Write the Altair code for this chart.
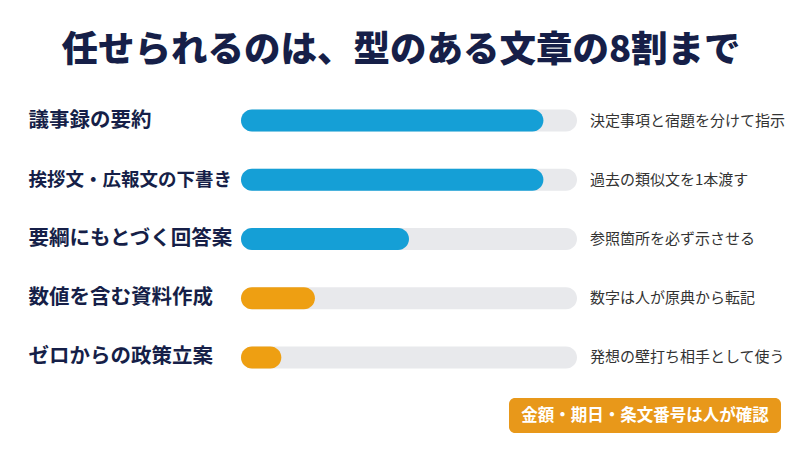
import altair as alt
import pandas as pd

# rows, top to bottom
categories = [
    "議事録の要約",
    "挨拶文・広報文の下書き",
    "要綱にもとづく回答案",
    "数値を含む資料作成",
    "ゼロからの政策立案",
]
shares = [90, 90, 50, 22, 12]
tips = [
    "決定事項と宿題を分けて指示",
    "過去の類似文を1本渡す",
    "参照箇所を必ず示させる",
    "数字は人が原典から転記",
    "発想の壁打ち相手として使う",
]
tones = ["ok", "ok", "ok", "check", "check"]

TITLE = "任せられるのは、型のある文章の8割まで"
NOTE = "金額・期日・条文番号は人が確認"

FONT = "Noto Sans CJK JP"
NAVY = "#161f48"
BLUE = "#159fd6"
ORANGE = "#ee9f12"
TRACK = "#e8e9ec"

df = pd.DataFrame({
    "task": categories,
    "share": shares,
    "tip": tips,
    "tone": tones,
    "full": [100] * len(categories),
})

W, H = 336, 296

# the long label with a full-width dot gets a slightly smaller size so it clears the bar
long_label = "datum.label == '%s'" % categories[1]

y_enc = alt.Y(
    "task:N",
    sort=categories,
    scale=alt.Scale(paddingInner=0, paddingOuter=0),
    axis=alt.Axis(
        title=None,
        domain=False,
        ticks=False,
        grid=False,
        labelAlign="left",
        labelPadding=213,
        labelFontSize=alt.condition(long_label, alt.value(18.5), alt.value(20.5)),
        labelFontWeight="bold",
        labelColor=NAVY,
        labelFont=FONT,
        labelLimit=0,
    ),
)
x_scale = alt.Scale(domain=[0, 100])

base = alt.Chart(df)

track = base.mark_bar(size=22, cornerRadius=11, color=TRACK).encode(
    x=alt.X("full:Q", scale=x_scale, axis=None),
    x2=alt.datum(0),
    y=y_enc,
)

fill = base.mark_bar(size=22, cornerRadius=11).encode(
    x=alt.X("share:Q", scale=x_scale, axis=None),
    x2=alt.datum(0),
    y=y_enc,
    color=alt.Color(
        "tone:N",
        scale=alt.Scale(domain=["ok", "check"], range=[BLUE, ORANGE]),
        legend=None,
    ),
)

tip_text = base.mark_text(
    align="left", baseline="middle", dx=13, fontSize=15, font=FONT, color="#333333"
).encode(
    x=alt.datum(100, scale=x_scale),
    y=y_enc,
    text="tip:N",
)

note_df = pd.DataFrame({"note": [NOTE]})
note_box = alt.Chart(note_df).mark_rect(color="#e8981a", cornerRadius=6).encode(
    x=alt.value(268), x2=alt.value(540), y=alt.value(307), y2=alt.value(342)
)
note_text = alt.Chart(note_df).mark_text(
    fontSize=16.5, fontWeight="bold", font=FONT, color="white",
    align="center", baseline="middle",
).encode(x=alt.value(404), y=alt.value(325), text="note:N")

chart = alt.layer(track, fill, tip_text, note_box, note_text).properties(
    width=W,
    height=H,
    title=alt.TitleParams(
        TITLE,
        fontSize=36.5,
        fontWeight=900,
        font=FONT,
        color=NAVY,
        anchor="middle",
        dx=-8,
        offset=22,
    ),
    autosize=alt.AutoSizeParams(type="none"),
    padding={"left": 233, "top": 83, "right": 215, "bottom": 55},
    background="white",
).configure_view(stroke=None)

chart.save("out.html", embed_options={"renderer": "svg", "actions": False})
